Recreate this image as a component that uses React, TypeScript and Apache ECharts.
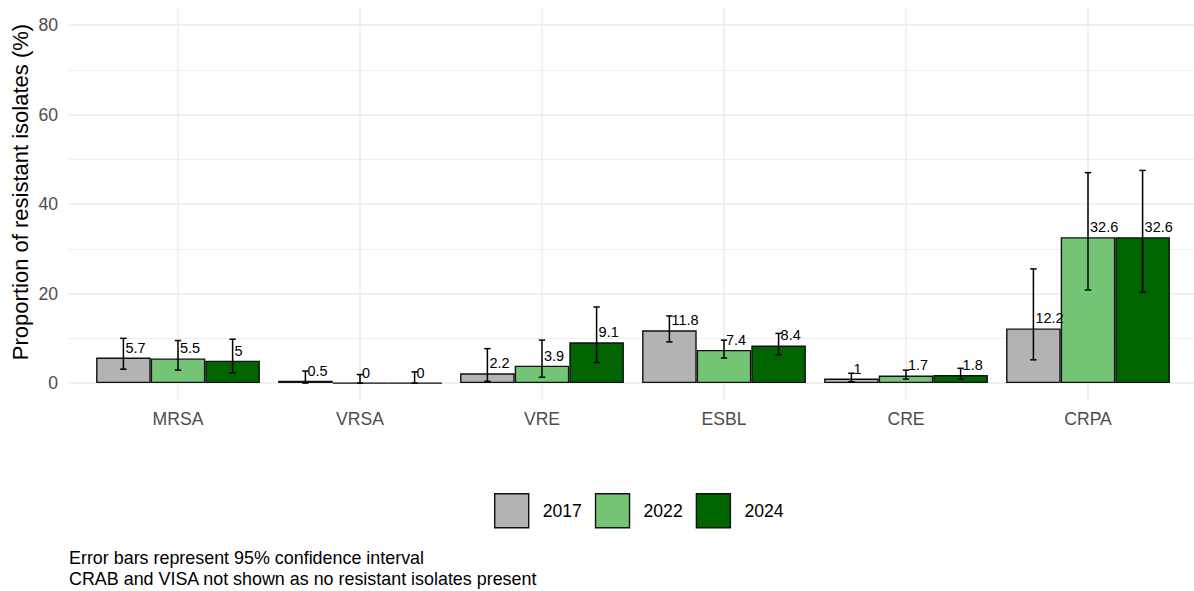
import React, { useEffect, useRef } from "react";
import * as echarts from "echarts";

const categories = ["MRSA", "VRSA", "VRE", "ESBL", "CRE", "CRPA"];
const years = ["2017", "2022", "2024"];
const values2017 = [5.7, 0.5, 2.2, 11.8, 1, 12.2];
const values2022 = [5.5, 0, 3.9, 7.4, 1.7, 32.6];
const values2024 = [5, 0, 9.1, 8.4, 1.8, 32.6];
const lower2017 = [3.1, 0, 0.4, 9.2, 0.3, 5.2];
const upper2017 = [10.0, 2.7, 7.7, 15.0, 2.2, 25.5];
const lower2022 = [2.9, 0, 1.3, 5.6, 0.9, 20.8];
const upper2022 = [9.5, 1.9, 9.6, 9.6, 2.9, 47.0];
const lower2024 = [2.3, 0, 4.6, 6.3, 0.9, 20.3];
const upper2024 = [9.8, 2.5, 17.0, 11.1, 3.3, 47.5];
const yTicks = [0, 20, 40, 60, 80];
const colors = ["#b3b3b3", "#74c476", "#006400"];
const yTitle = "Proportion of resistant isolates (%)";
const captionLines = [
  "Error bars represent 95% confidence interval",
  "CRAB and VISA not shown as no resistant isolates present",
];

const FONT = "Liberation Sans, Arial, sans-serif";

const seriesValues = [values2017, values2022, values2024];
const seriesLower = [lower2017, lower2022, lower2024];
const seriesUpper = [upper2017, upper2022, upper2024];

export default function App() {
  const ref = useRef<HTMLDivElement>(null);
  useEffect(() => {
    document.body.style.margin = "0";
    const chart = echarts.init(ref.current!, null, { renderer: "svg" });

    const bars = years.map((y, s) => ({
      type: "bar",
      name: y,
      xAxisIndex: 1,
      yAxisIndex: 1,
      data: seriesValues[s],
      barGap: "0%",
      barCategoryGap: "10%",
      itemStyle: { color: colors[s], borderColor: "#111", borderWidth: 1.4 },
      z: 2,
    }));

    const errs = years.map((y, s) => ({
      type: "custom",
      name: "err" + y,
      xAxisIndex: 1,
      yAxisIndex: 1,
      z: 5,
      encode: { x: 0, y: 1 },
      data: categories.map((c, i) => [i, seriesValues[s][i], seriesLower[s][i], seriesUpper[s][i]]),
      renderItem: (params: any, api: any) => {
        const ci = api.value(0);
        const v = api.value(1);
        const lo = api.value(2);
        const hi = api.value(3);
        const band = api.size([1, 0])[0];
        const bw = (band * 0.9) / 3;
        const c = api.coord([ci, v]);
        const x = c[0] + (s - 1) * bw;
        const yHi = api.coord([ci, hi])[1];
        const yLo = api.coord([ci, lo])[1];
        const cap = 3.2;
        const ls = { stroke: "#000", lineWidth: 1.5 };
        return {
          type: "group",
          children: [
            { type: "line", shape: { x1: x, y1: yHi, x2: x, y2: yLo }, style: ls },
            { type: "line", shape: { x1: x - cap, y1: yHi, x2: x + cap, y2: yHi }, style: ls },
            { type: "line", shape: { x1: x - cap, y1: yLo, x2: x + cap, y2: yLo }, style: ls },
            {
              type: "text",
              x: x + 2,
              y: c[1] - 10,
              style: {
                text: String(v),
                fill: "#000",
                fontSize: 14.5,
                fontFamily: FONT,
                align: "left",
                verticalAlign: "middle",
              },
            },
          ],
        };
      },
    }));

    chart.setOption({
      animation: false,
      grid: [
        { left: 69, right: 0, top: 25, bottom: 208 },
        { left: 87, right: 15, top: 7, bottom: 190 },
      ],
      xAxis: [
        { type: "value", gridIndex: 0, min: 0, max: 1, show: false },
        {
          type: "category",
          gridIndex: 1,
          data: categories,
          axisLine: { show: false },
          axisTick: { show: false },
          axisLabel: { fontSize: 17.6, color: "#4d4d4d", fontFamily: FONT, margin: 9 },
          splitLine: { show: true, alignWithLabel: true, lineStyle: { color: "#ebebeb", width: 1.5 } },
        },
      ],
      yAxis: [
        {
          type: "value",
          gridIndex: 0,
          min: 0,
          max: 80,
          interval: 20,
          axisLine: { show: false },
          axisTick: { show: false },
          axisLabel: {
            fontSize: 17.6,
            color: "#4d4d4d",
            fontFamily: FONT,
            margin: 11,
            formatter: (v: number) => (yTicks.includes(v) ? String(v) : ""),
          },
          splitLine: { show: true, lineStyle: { color: "#ebebeb", width: 1.5 } },
          minorTick: { show: false, splitNumber: 2 },
          minorSplitLine: { show: true, lineStyle: { color: "#ebebeb", width: 0.8 } },
        },
        {
          type: "value",
          gridIndex: 1,
          min: -4,
          max: 84,
          show: false,
          splitLine: { show: false },
        },
      ],
      legend: {
        data: years,
        left: 494,
        top: 493,
        padding: 0,
        icon: "rect",
        itemWidth: 34,
        itemHeight: 34,
        itemGap: 13,
        itemStyle: { borderColor: "#111", borderWidth: 1.4 },
        textStyle: { fontSize: 17.6, color: "#000", fontFamily: FONT, padding: [0, 0, 0, 9] },
      },
      graphic: [
        {
          type: "text",
          x: 20,
          y: 192,
          rotation: Math.PI / 2,
          style: {
            text: yTitle,
            fontSize: 22,
            fontFamily: FONT,
            fill: "#000",
            align: "center",
            verticalAlign: "middle",
          },
        },
        ...captionLines.map((t, i) => ({
          type: "text",
          x: 69,
          y: 558 + i * 21,
          style: {
            text: t,
            fontSize: 17.9,
            fontFamily: FONT,
            fill: "#000",
            align: "left",
            verticalAlign: "middle",
          },
        })),
      ],
      series: [...bars, ...errs],
    });
    return () => chart.dispose();
  }, []);
  return <div ref={ref} style={{ width: 1194, height: 591 }} />;
}
